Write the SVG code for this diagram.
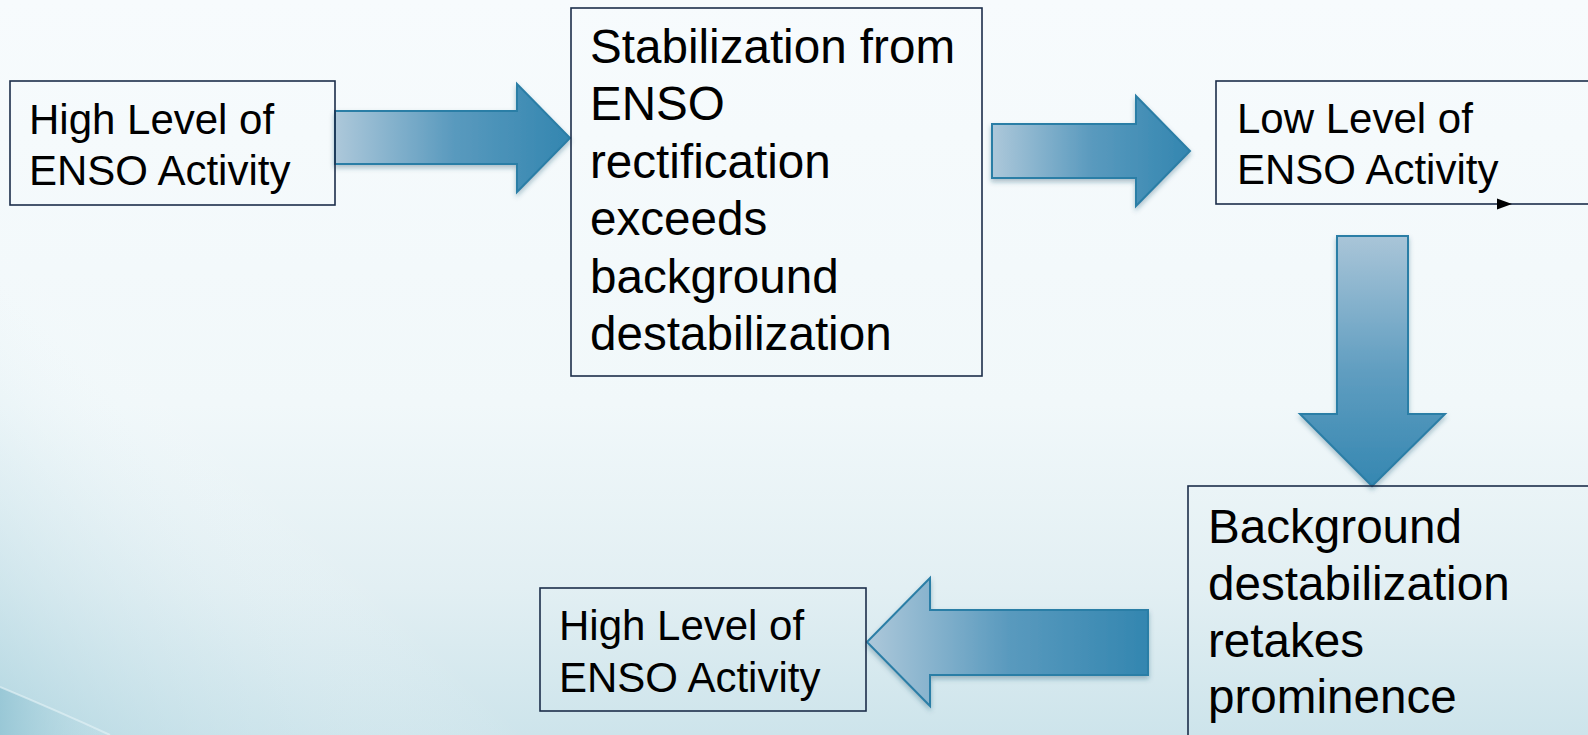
<svg xmlns="http://www.w3.org/2000/svg" width="1588" height="735" viewBox="0 0 1588 735">
  <defs>
    <linearGradient id="bg" x1="0" y1="0" x2="0" y2="1">
      <stop offset="0" stop-color="#f7fbfd"/>
      <stop offset="0.55" stop-color="#f1f8fa"/>
      <stop offset="0.8" stop-color="#e2eff3"/>
      <stop offset="1" stop-color="#cde4eb"/>
    </linearGradient>
    <linearGradient id="diag" gradientUnits="userSpaceOnUse" x1="0" y1="735" x2="260" y2="470">
      <stop offset="0" stop-color="#a8d1dd" stop-opacity="0.75"/>
      <stop offset="0.55" stop-color="#cfe6ed" stop-opacity="0.3"/>
      <stop offset="1" stop-color="#ffffff" stop-opacity="0"/>
    </linearGradient>
    <linearGradient id="swoosh" x1="0" y1="0" x2="1" y2="0">
      <stop offset="0" stop-color="#96c6d5" stop-opacity="0.9"/>
      <stop offset="1" stop-color="#b9dbe4" stop-opacity="0"/>
    </linearGradient>
    <linearGradient id="ah" x1="0" y1="0" x2="1" y2="0">
      <stop offset="0" stop-color="#adc8da"/>
      <stop offset="0.5" stop-color="#5a9abe"/>
      <stop offset="1" stop-color="#3386b0"/>
    </linearGradient>
    <linearGradient id="av" x1="0" y1="0" x2="0" y2="1">
      <stop offset="0" stop-color="#a9c5d8"/>
      <stop offset="0.55" stop-color="#5f9dc0"/>
      <stop offset="1" stop-color="#3587b1"/>
    </linearGradient>
    <filter id="sh" x="-10%" y="-10%" width="120%" height="130%">
      <feDropShadow dx="0" dy="3" stdDeviation="2.5" flood-color="#20506a" flood-opacity="0.35"/>
    </filter>
  </defs>
  <style>
    .box { fill: none; stroke: #1c2e4a; stroke-width: 1.6; }
    .arrow { stroke: #2c7ea6; stroke-width: 2; stroke-linejoin: miter; filter: url(#sh); }
    .t42 { font-family: "Liberation Sans", Arial, sans-serif; font-size: 42px; fill: #000; }
    .t47 { font-family: "Liberation Sans", Arial, sans-serif; font-size: 47.6px; fill: #000; }
  </style>

  <rect x="0" y="0" width="1588" height="735" fill="url(#bg)"/>
  <rect x="0" y="0" width="1588" height="735" fill="url(#diag)"/>
  <path d="M0,687 Q60,712 110,735 L0,735 Z" fill="url(#swoosh)"/>
  <path d="M0,687 Q60,712 110,735" fill="none" stroke="#e6f3f6" stroke-width="2" stroke-opacity="0.6"/>

  <g id="connectors">
    <path class="arrow" fill="url(#ah)" d="M335,111 H517 V84 L570,138 L517,192 V164 H335 Z"/>
    <path class="arrow" fill="url(#ah)" d="M992,124 H1136 V96 L1190,151 L1136,206 V178 H992 Z"/>
    <path class="arrow" fill="url(#av)" d="M1337,236 H1408 V414 H1445 L1372,486 L1300,414 H1337 Z"/>
    <path class="arrow" fill="url(#ah)" d="M1148,610 H930 V578 L867,642 L930,706 V675 H1148 Z"/>
  </g>

  <g id="node-high1">
    <rect class="box" x="10" y="81" width="325" height="124"/>
    <text class="t42" x="29" y="134">High Level of</text>
    <text class="t42" x="29" y="185">ENSO Activity</text>
  </g>

  <g id="node-stabilization">
    <rect class="box" x="571" y="8" width="411" height="368"/>
    <text class="t47" x="590" y="63">Stabilization from</text>
    <text class="t47" x="590" y="120.4">ENSO</text>
    <text class="t47" x="590" y="177.8">rectification</text>
    <text class="t47" x="590" y="235.2">exceeds</text>
    <text class="t47" x="590" y="292.6">background</text>
    <text class="t47" x="590" y="350">destabilization</text>
  </g>

  <g id="node-low">
    <rect class="box" x="1216" y="81" width="400" height="123"/>
    <polygon points="1497,198.5 1512,204 1497,209.5" fill="#000"/>
    <text class="t42" x="1237" y="133">Low Level of</text>
    <text class="t42" x="1237" y="184">ENSO Activity</text>
  </g>

  <g id="node-background">
    <rect class="box" x="1188" y="486" width="420" height="260"/>
    <text class="t47" x="1208" y="543">Background</text>
    <text class="t47" x="1208" y="600">destabilization</text>
    <text class="t47" x="1208" y="657">retakes</text>
    <text class="t47" x="1208" y="713">prominence</text>
  </g>

  <g id="node-high2">
    <rect class="box" x="540" y="588" width="326" height="123"/>
    <text class="t42" x="559" y="640">High Level of</text>
    <text class="t42" x="559" y="692">ENSO Activity</text>
  </g>
</svg>
